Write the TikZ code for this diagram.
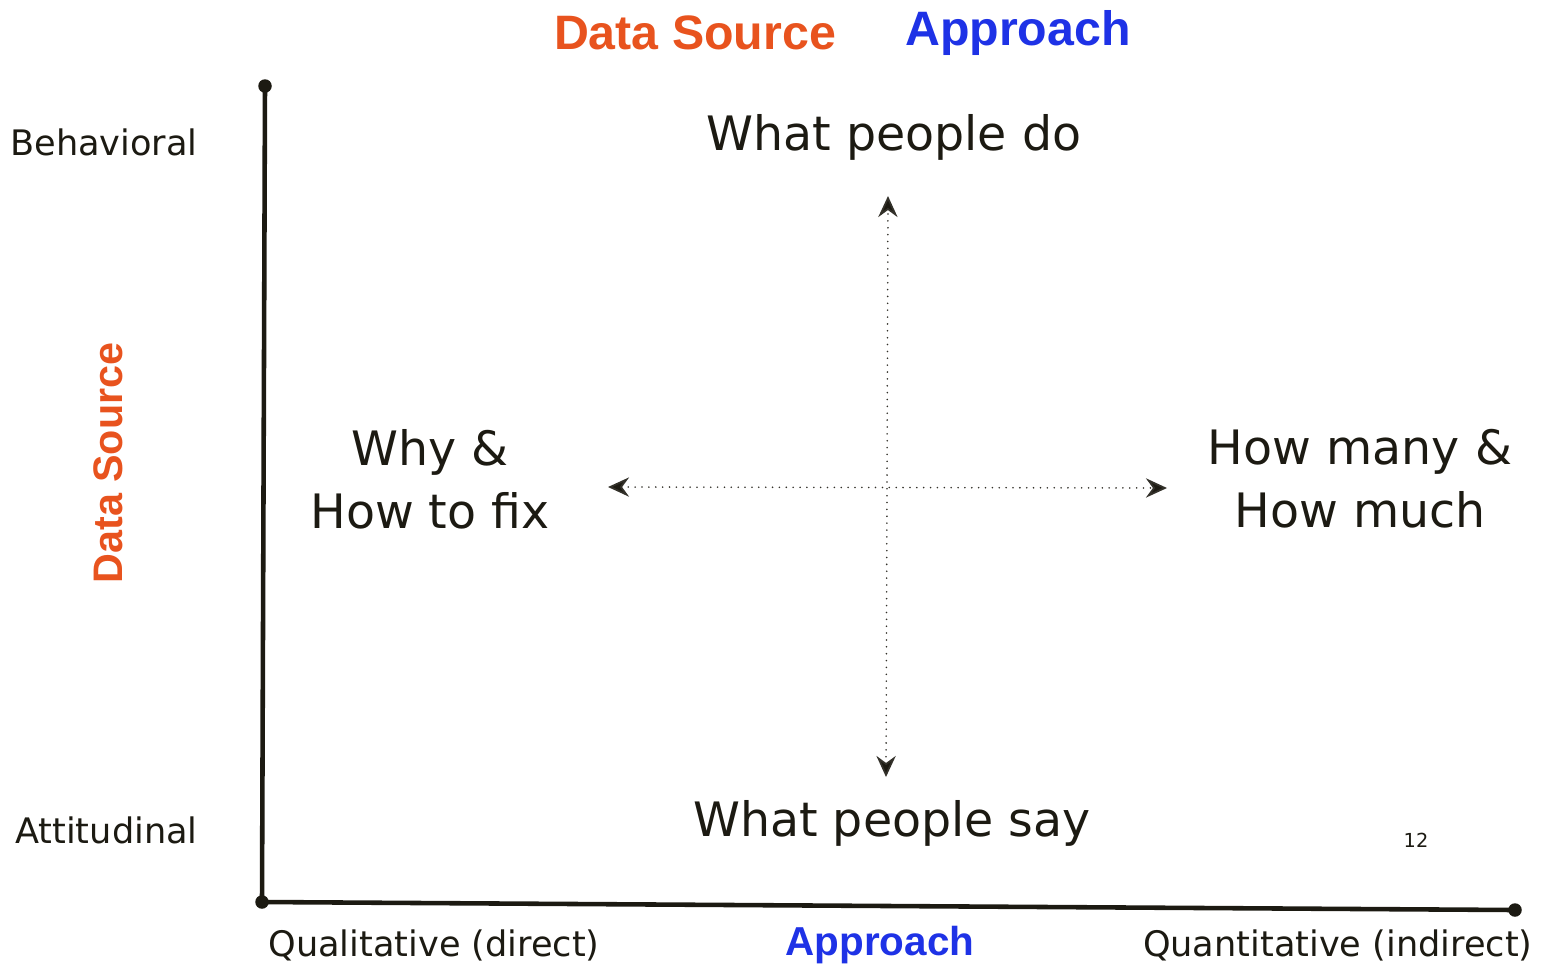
\documentclass[tikz,border=0pt]{standalone}
\usepackage{fontspec}
\setmainfont{DejaVu Sans}
\newfontfamily\headfont{Liberation Sans}
\usetikzlibrary{arrows.meta}
\definecolor{srcorange}{HTML}{E8531E}
\definecolor{appblue}{HTML}{1E32E6}
\definecolor{inkdark}{HTML}{1C1A12}
\begin{document}
\begin{tikzpicture}[x=0.02cm,y=-0.02cm,
  axis/.style={line width=2.6pt,draw=inkdark},
  knob/.style={circle,fill=inkdark,inner sep=0pt,minimum size=0.27cm},
  guide/.style={draw=inkdark!90,line width=1pt,line cap=round,
    dash pattern=on 0.01pt off 3.9pt,
    {Stealth[length=12pt,width=11pt,inset=4pt,fill=inkdark]}-{Stealth[length=12pt,width=11pt,inset=4pt,fill=inkdark]}},
  quad/.style={font=\fontsize{27}{36}\selectfont,text=inkdark,align=center},
  side/.style={font=\fontsize{20}{24}\selectfont,text=inkdark,inner sep=0pt},
  head/.style={font=\headfont\bfseries\fontsize{27.5}{32}\selectfont}]
\useasboundingbox (0,0) rectangle (1545,968);
% axes
\node[knob] (top) at (265,86) {};
\node[knob] (origin) at (262,902) {};
\node[knob] (right) at (1515,910) {};
\draw[axis] (top.center)--(origin.center)--(right.center);
% titles
\node[head,text=srcorange] (hsrc) at (695,33) {Data Source};
\node[head,text=appblue] (happ) at (1018,33) {Approach};
\node[head,text=srcorange,rotate=90,font=\headfont\bfseries\fontsize{23.5}{28}\selectfont] (vsrc) at (108,463) {Data Source};
\node[head,text=appblue,font=\headfont\bfseries\fontsize{23}{28}\selectfont] (bapp) at (880,945) {Approach};
% axis ends
\node[side,anchor=east] (beh) at (198,142) {Behavioral};
\node[side,anchor=east] (att) at (198,830) {Attitudinal};
\node[side,anchor=west] (qual) at (268,945) {Qualitative (direct)};
\node[side,anchor=east] (quan) at (1533,945) {Quantitative (indirect)};
% quadrant texts
\node[quad] (does) at (894,137) {What people do};
\node[quad] (says) at (892,823) {What people say};
\node[quad] (why) at (430,479) {Why \&\\How to fix};
\node[quad] (many) at (1360,479) {How many \&\\How much};
\node[font=\fontsize{11}{12}\selectfont,text=inkdark] (pg) at (1416,840) {12};
% dotted cross
\coordinate (up) at (888,196);
\coordinate (down) at (886,777);
\coordinate (lt) at (608,487);
\coordinate (rt) at (1167,488);
\draw[guide] (down)--(up);
\draw[guide] (lt)--(rt);
\end{tikzpicture}
\end{document}
